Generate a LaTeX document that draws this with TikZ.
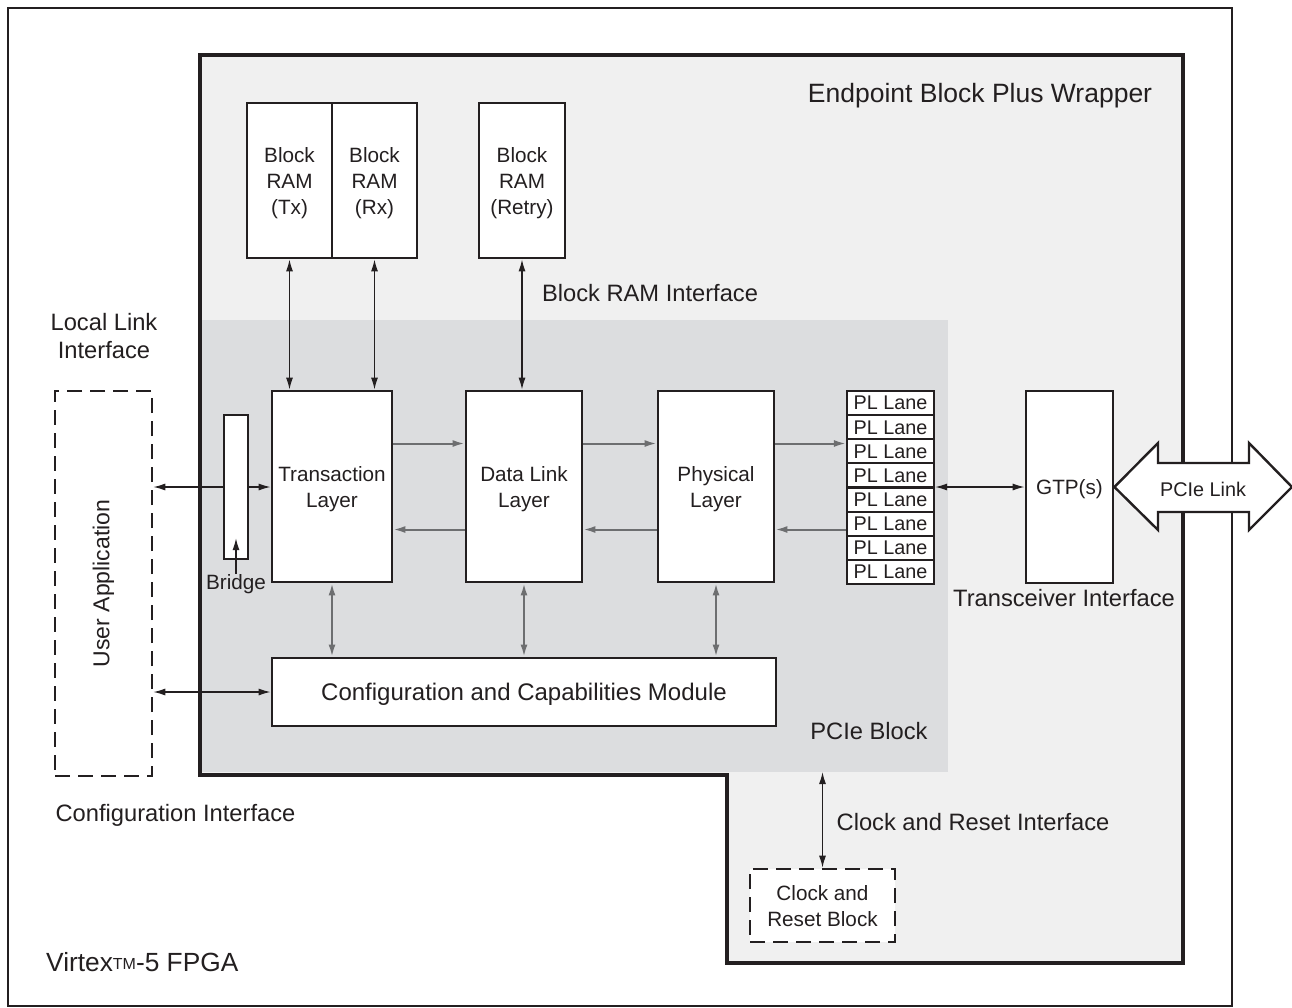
\documentclass[tikz,border=0pt]{standalone}
\usepackage{fontspec}
\setmainfont{Liberation Sans}
\usetikzlibrary{arrows.meta}
\definecolor{ink}{HTML}{231F20}
\definecolor{wrapfill}{HTML}{F0F0F0}
\definecolor{pciefill}{HTML}{DCDDDF}
\definecolor{garrc}{HTML}{6D6E70}
\begin{document}
\begin{tikzpicture}[x=1pt,y=-1pt,
  box/.style={draw=ink, line width=2.8pt, fill=white, inner sep=0pt, align=center, text=ink, text depth=0pt, font=\fontsize{20.7}{26}\selectfont},
  lane/.style={draw=ink, line width=2.2pt, fill=white, inner sep=0pt, minimum width=87pt, minimum height=24.125pt, text=ink, text depth=0pt, font=\fontsize{19.8}{22}\selectfont},
  dbox/.style={box, dash pattern=on 15pt off 8pt, line width=2.6pt},
  lbl/.style={text=ink, font=\fontsize{23.7}{28}\selectfont, align=center, inner sep=0pt},
  barr/.style={draw=ink, line width=1.3pt, -{Latex[length=12pt,width=7pt]}},
  bdbl/.style={draw=ink, line width=1.3pt, {Latex[length=12pt,width=7pt]}-{Latex[length=12pt,width=7pt]}},
  garr/.style={draw=garrc, line width=2pt, -{Latex[length=12pt,width=7pt]}},
  gdbl/.style={draw=garrc, line width=2pt, {Latex[length=12pt,width=7pt]}-{Latex[length=12pt,width=7pt]}},
]
\useasboundingbox (0,0) rectangle (1292,1007);
% outer FPGA frame
\draw[ink, line width=2.5pt] (8,8) rectangle (1232,1006);
% wrapper
\fill[wrapfill] (200,55) -- (1183,55) -- (1183,963) -- (727,963) -- (727,775) -- (200,775) -- cycle;
\node[fill=pciefill, minimum width=748pt, minimum height=452pt, inner sep=0pt, outer sep=0pt] (pcie) at (574,546) {};
\draw[ink, line width=4.5pt] (200,55) -- (1183,55) -- (1183,963) -- (727,963) -- (727,775) -- (200,775) -- cycle;

% labels
\node[lbl, font=\fontsize{26.5}{30}\selectfont] (wraplbl) at (980,96) {Endpoint Block Plus Wrapper};
\node[lbl] (bramlbl) at (650,293) {Block RAM Interface};
\node[lbl] (lllbl) at (104,336) {Local Link\\Interface};
\node[lbl] (cfglbl) at (175.5,815) {Configuration Interface};
\node[lbl] (clklbl) at (973,822) {Clock and Reset Interface};
\node[lbl] (trlbl) at (1064,598) {Transceiver Interface};
\node[lbl] (pcielbl) at (869,731) {PCIe Block};
\node[lbl, anchor=base west, font=\fontsize{26.3}{30}\selectfont] (fpgalbl) at (46,971) {Virtex{\fontsize{16}{16}\selectfont\raisebox{1.5pt}{TM}}-5 FPGA};

% Block RAMs
\node[box, minimum width=85pt, minimum height=155pt] (TX) at (289.5,180.5) {Block\\RAM\\(Tx)};
\node[box, minimum width=85pt, minimum height=155pt] (RX) at (374.5,180.5) {Block\\RAM\\(Rx)};
\node[box, minimum width=86pt, minimum height=155pt] (RT) at (522,180.5) {Block\\RAM\\(Retry)};

% layers
\node[box, minimum width=120pt, minimum height=191pt] (TL) at (332,486.5) {Transaction\\Layer};
\node[box, minimum width=116pt, minimum height=191pt] (DL) at (524,486.5) {Data Link\\Layer};
\node[box, minimum width=116pt, minimum height=191pt] (PHY) at (716,486.5) {Physical\\Layer};
\node[box, minimum width=504pt, minimum height=68pt, font=\fontsize{24}{28}\selectfont] (CFG) at (524,692) {Configuration and Capabilities Module};
\node[box, minimum width=24pt, minimum height=144pt] (BR) at (236,487) {};
\node[lbl, font=\fontsize{20.7}{24}\selectfont] (BRL) at (236,584) {Bridge};

% user application
\node[dbox, minimum width=97pt, minimum height=385pt] (UA) at (103.5,583.5) {};
\node[lbl, rotate=90, font=\fontsize{23}{28}\selectfont] (UAL) at (UA.center) {User Application};

% PL lanes
\foreach \i in {1,...,8}{
  \node[lane] (lane\i) at (890.5,{391+24.125*(\i-0.5)}) {PL Lane};
}

% GTP
\node[box, minimum width=87pt, minimum height=192pt] (GTP) at (1069.5,487) {GTP(s)};

% PCIe link fat arrow
\filldraw[fill=white, draw=ink, line width=2.4pt, line join=miter]
  (GTP.east) -- (1158,443) -- (1158,463) -- (1249,463) -- (1249,443) -- (1292,487)
  -- (1249,530) -- (1249,512) -- (1158,512) -- (1158,530) -- cycle;
\node[lbl, font=\fontsize{19.8}{22}\selectfont] (link) at (1203,489) {PCIe Link};

% clock and reset block
\node[dbox, minimum width=145pt, minimum height=73pt] (CRB) at (822.5,905.5) {Clock and\\Reset Block};

% block RAM arrows
\draw[bdbl] (TX.south) -- (TX.south |- TL.north);
\draw[bdbl] (RX.south) -- (RX.south |- TL.north);
\draw[bdbl] (RT.south) -- (RT.south |- DL.north);

% layer arrows
\draw[garr] ([yshift=43pt]TL.east) -- ([yshift=43pt]TL.east -| DL.west);
\draw[garr] ([yshift=-43pt]DL.west) -- ([yshift=-43pt]DL.west -| TL.east);
\draw[garr] ([yshift=43pt]DL.east) -- ([yshift=43pt]DL.east -| PHY.west);
\draw[garr] ([yshift=-43pt]PHY.west) -- ([yshift=-43pt]PHY.west -| DL.east);
\draw[garr] ([yshift=43pt]PHY.east) -- ([yshift=43pt]PHY.east -| lane1.west);
\draw[garr] ([yshift=-43pt]PHY.east -| lane1.west) -- ([yshift=-43pt]PHY.east);

% vertical to config
\draw[gdbl] (TL.south) -- (TL.south |- CFG.north);
\draw[gdbl] (DL.south) -- (DL.south |- CFG.north);
\draw[gdbl] (PHY.south) -- (PHY.south |- CFG.north);

% user app links
\draw[barr] (BR.west) -- (BR.west -| UA.east);
\draw[barr] (BR.east) -- (BR.east -| TL.west);
\draw[bdbl] (CFG.west -| UA.east) -- (CFG.west);
\draw[barr] (BRL.north) -- ++(0,-36);

% lanes to GTP
\draw[bdbl] (GTP.west -| lane1.east) -- (GTP.west);

% clock
\draw[bdbl] (CRB.north |- pcie.south) -- (CRB.north);
\end{tikzpicture}
\end{document}
